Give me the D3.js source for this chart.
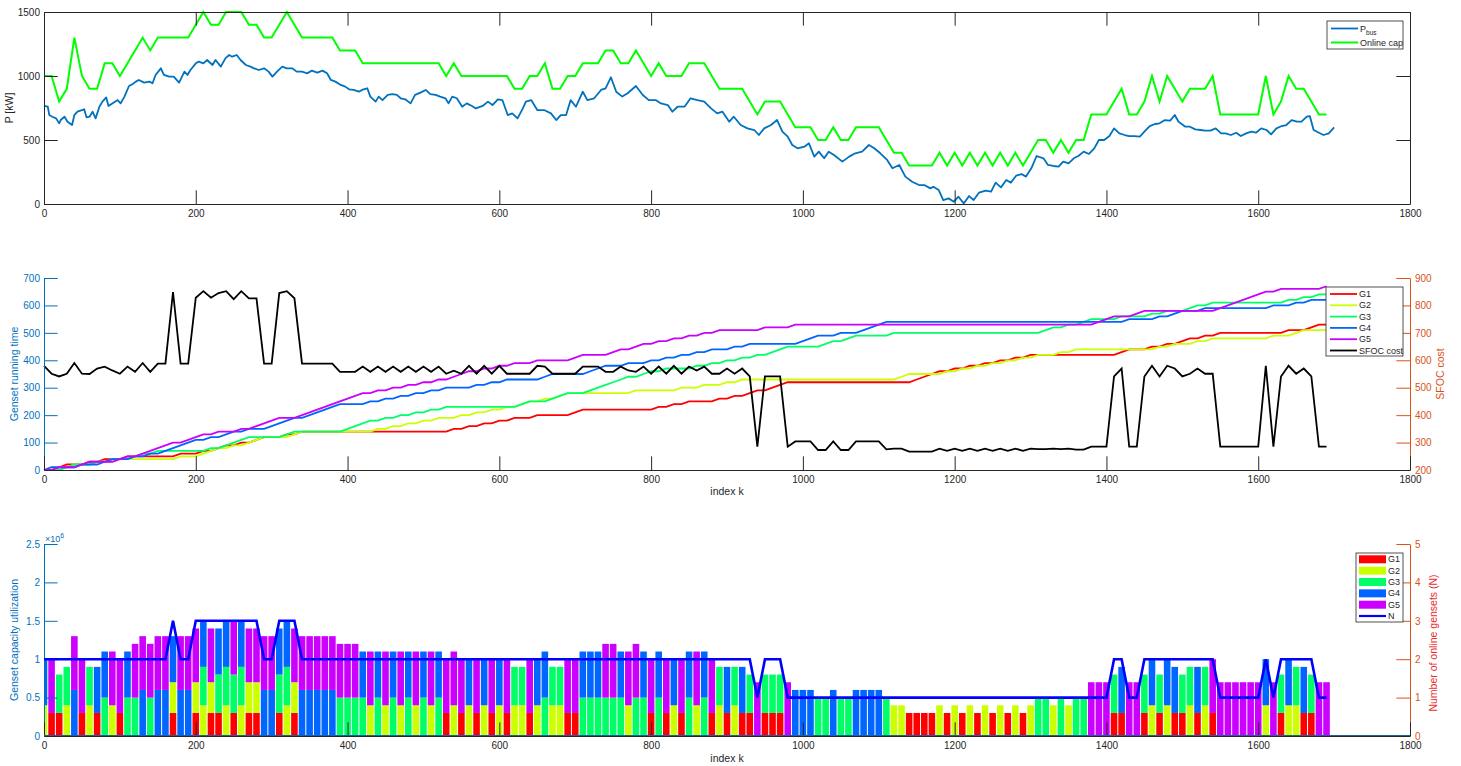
<!DOCTYPE html>
<html>
<head>
<meta charset="utf-8">
<script src="https://cdn.jsdelivr.net/npm/d3@7"></script>
<style>
  body { margin: 0; background: #fff; }
  svg { font-family: "Liberation Sans", Arial, Helvetica, sans-serif; }
</style>
</head>
<body>
<svg width="1461" height="766"></svg>
<script>
var svg = d3.select('svg');

// gensets
var genNames = ['G1', 'G2', 'G3', 'G4', 'G5'];
var genColors = ['#ff0000', '#ccff00', '#00ff66', '#0066ff', '#cc00ff'];
var genCapKW = [300, 400, 500, 600, 700];

// online gensets at each step k = 0, 10, ..., 1690
var onlineSets = [
    '24', '15', '13', '23', '45', '15', '23', '14', '34', '25',
    '15', '34', '35', '45', '35', '45', '45', '124', '45', '45',
    '125', '234', '125', '134', '234', '135', '234', '125', '125', '45',
    '45', '134', '234', '125', '45', '45', '45', '45', '45', '35',
    '35', '35', '34', '25', '34', '25', '34', '25', '34', '25',
    '34', '25', '34', '15', '25', '15', '24', '15', '24', '15',
    '24', '15', '23', '23', '15', '24', '34', '23', '23', '15',
    '15', '34', '34', '34', '35', '35', '34', '25', '35', '34',
    '15', '34', '15', '24', '15', '34', '25', '34', '15', '23',
    '14', '23', '14', '13', '5', '13', '13', '13', '5', '4',
    '4', '4', '3', '3', '4', '3', '3', '4', '4', '4',
    '4', '3', '2', '2', '1', '1', '1', '1', '2', '1',
    '2', '1', '2', '1', '2', '1', '2', '1', '2', '1',
    '2', '3', '3', '2', '3', '2', '3', '3', '5', '5',
    '5', '13', '14', '5', '5', '13', '24', '13', '24', '14',
    '13', '23', '14', '23', '15', '5', '5', '5', '5', '5',
    '5', '24', '5', '13', '24', '23', '14', '13', '5', '5'
];

// SFOC cost at each step (right axis of the middle panel)
var sfocCost = [
    580, 551, 541, 551, 590, 551, 550, 570, 577, 563,
    551, 577, 558, 590, 558, 588, 588, 849, 588, 588,
    828, 852, 828, 845, 852, 823, 852, 826, 826, 588,
    588, 845, 852, 826, 588, 588, 588, 588, 588, 558,
    558, 558, 577, 558, 577, 558, 577, 558, 577, 558,
    577, 558, 577, 551, 562, 551, 580, 551, 580, 551,
    580, 551, 551, 551, 551, 580, 577, 551, 551, 551,
    551, 577, 577, 577, 558, 558, 577, 563, 558, 577,
    551, 577, 551, 580, 551, 577, 563, 577, 551, 551,
    570, 551, 570, 541, 285, 541, 541, 541, 285, 304,
    304, 304, 273, 273, 304, 273, 273, 304, 304, 304,
    304, 275, 278, 278, 267, 267, 267, 267, 278, 270,
    278, 270, 278, 270, 278, 270, 278, 270, 278, 270,
    278, 276, 276, 278, 276, 278, 274, 274, 285, 285,
    285, 541, 570, 285, 285, 541, 580, 541, 580, 570,
    541, 551, 570, 551, 551, 285, 285, 285, 285, 285,
    285, 580, 285, 541, 580, 551, 570, 541, 285, 285
];

// bus power [kW]
var pBusK = [
    0, 5, 7, 11, 16, 20, 22, 27, 31, 37, 40, 44, 53, 56, 60, 64, 68, 73, 77, 82,
    85, 90, 97, 101, 106, 112, 117, 121, 125, 132, 139, 143, 147, 154, 158, 165, 171, 178, 185, 189,
    193, 200, 204, 210, 215, 222, 226, 233, 239, 244, 248, 254, 259, 266, 272, 277, 283, 290, 296, 301,
    307, 314, 320, 327, 333, 340, 347, 353, 360, 367, 373, 378, 384, 391, 397, 402, 408, 415, 421, 426,
    430, 437, 441, 446, 453, 459, 465, 470, 476, 483, 489, 496, 503, 509, 516, 522, 529, 533, 538, 544,
    551, 557, 564, 569, 578, 585, 591, 598, 604, 611, 617, 624, 631, 635, 642, 650, 659, 668, 675, 681,
    688, 694, 701, 710, 716, 725, 734, 740, 747, 754, 762, 769, 780, 789, 797, 806, 813, 822, 828, 835,
    844, 852, 861, 870, 879, 887, 894, 903, 909, 918, 927, 936, 942, 949, 958, 966, 973, 980, 986, 993,
    1002, 1008, 1015, 1021, 1028, 1034, 1041, 1052, 1061, 1069, 1078, 1087, 1094, 1102, 1111, 1118, 1127, 1135, 1144, 1153,
    1160, 1168, 1172, 1179, 1185, 1192, 1199, 1205, 1212, 1219, 1225, 1232, 1241, 1248, 1254, 1261, 1268, 1274, 1281, 1288,
    1294, 1301, 1308, 1317, 1323, 1330, 1337, 1343, 1350, 1357, 1363, 1370, 1377, 1384, 1390, 1397, 1404, 1410, 1417, 1424,
    1430, 1437, 1444, 1450, 1457, 1464, 1470, 1477, 1484, 1490, 1495, 1504, 1510, 1517, 1524, 1530, 1537, 1544, 1551, 1557,
    1564, 1571, 1577, 1584, 1591, 1597, 1604, 1611, 1617, 1624, 1631, 1637, 1644, 1651, 1657, 1664, 1668, 1673, 1680, 1686,
    1693, 1700
];
var pBus = [
    766, 760, 695, 682, 669, 630, 656, 682, 643, 617, 695, 721, 740, 677, 682, 721, 669, 760, 800, 833,
    766, 786, 812, 786, 839, 922, 938, 956, 969, 948, 956, 943, 1008, 1060, 1008, 995, 995, 948, 1034, 1008,
    1047, 1099, 1112, 1099, 1125, 1086, 1125, 1073, 1138, 1164, 1151, 1164, 1125, 1086, 1073, 1060, 1047, 1060, 1034, 995,
    1034, 1073, 1060, 1060, 1034, 1034, 1021, 1042, 1026, 1042, 1021, 969, 956, 930, 917, 896, 891, 878, 896, 904,
    839, 800, 839, 812, 852, 859, 852, 826, 818, 786, 852, 870, 891, 859, 852, 839, 826, 786, 839, 826,
    760, 786, 766, 747, 766, 800, 773, 818, 812, 695, 708, 669, 747, 800, 812, 734, 734, 708, 656, 695,
    695, 812, 760, 877, 812, 826, 891, 904, 990, 877, 839, 865, 922, 852, 812, 812, 786, 773, 721, 760,
    760, 826, 812, 800, 747, 708, 721, 643, 682, 617, 591, 578, 539, 591, 617, 656, 565, 526, 461, 435,
    448, 474, 370, 409, 357, 409, 383, 331, 370, 396, 409, 461, 435, 396, 344, 279, 305, 214, 174, 148,
    148, 122, 135, 109, 31, 44, 18, 57, 5, 62, 31, 88, 104, 96, 167, 130, 188, 167, 221, 234,
    214, 279, 375, 357, 305, 297, 292, 331, 318, 357, 375, 409, 391, 435, 500, 500, 531, 591, 552, 539,
    531, 531, 526, 565, 609, 625, 630, 656, 651, 695, 643, 604, 604, 583, 578, 573, 573, 591, 552, 552,
    539, 557, 531, 552, 565, 557, 591, 578, 544, 591, 609, 617, 656, 643, 643, 682, 687, 578, 557, 539,
    552, 599
];

var xTicks = [0, 200, 400, 600, 800, 1000, 1200, 1400, 1600, 1800];

// derived from the schedule
var stepK = onlineSets.map(function(s, i) { return i * 10; });
var onFlags = onlineSets.map(function(s) {
    return genNames.map(function(g, j) { return s.indexOf(String(j + 1)) >= 0; });
});
var onlineCap = onFlags.map(function(f) {
    return d3.sum(f, function(on, j) { return on ? genCapKW[j] : 0; });
});
var nOnline = onFlags.map(function(f) { return f.filter(Boolean).length; });
var runTime = genNames.map(function(g, j) {
    var t = 0;
    return onFlags.map(function(f) {
        var v = t;
        if (f[j]) t += 10;
        return v;
    });
});

var axisGray = '#262626';
var leftBlue = '#0072BD';
var rightOrange = '#D95319';
var tickLen = 13.66;
var fontStack = '"Liberation Sans", Arial, Helvetica, sans-serif';
var plain = function(d) { return String(d); };

var x = d3.scaleLinear().domain([0, 1800]).range([44, 1410]);

function styleAxis(g, color) {
    g.attr('font-family', fontStack).attr('font-size', 10);
    g.selectAll('path.domain').attr('stroke', color);
    g.selectAll('.tick line').attr('stroke', color);
    g.selectAll('.tick text').attr('fill', color);
}

function bottomAxis(yPos) {
    var ax = d3.axisBottom(x).tickValues(xTicks).tickSize(-tickLen).tickSizeOuter(0)
        .tickPadding(6).tickFormat(plain);
    var g = svg.append('g').attr('transform', 'translate(0,' + yPos + ')').call(ax);
    styleAxis(g, axisGray);
}

function yAxis(scale, side, values, color, labels) {
    var ax = (side === 'left' ? d3.axisLeft(scale) : d3.axisRight(scale))
        .tickValues(values).tickSize(-tickLen).tickSizeOuter(0)
        .tickPadding(side === 'left' ? 4 : 5)
        .tickFormat(labels ? plain : '');
    var g = svg.append('g')
        .attr('transform', 'translate(' + (side === 'left' ? 44 : 1410) + ',0)')
        .call(ax);
    styleAxis(g, color);
}

function vLabel(text, xPos, yPos, color) {
    svg.append('text')
        .attr('transform', 'translate(' + xPos + ',' + yPos + ') rotate(-90)')
        .attr('text-anchor', 'middle')
        .attr('font-size', 10.5)
        .attr('fill', color)
        .text(text);
}

function legendBox(x0, y0, w, h) {
    svg.append('rect')
        .attr('x', x0).attr('y', y0).attr('width', w).attr('height', h)
        .attr('fill', '#fff').attr('stroke', axisGray).attr('stroke-width', 0.8);
}

/* ---------- panel 1: bus power and online capacity ---------- */
var y1 = d3.scaleLinear().domain([0, 1500]).range([204, 12]);

svg.append('path')
    .datum(pBus)
    .attr('fill', 'none')
    .attr('stroke', '#0072BD')
    .attr('stroke-width', 1.8)
    .attr('stroke-linejoin', 'round')
    .attr('d', d3.line()
        .x(function(d, i) { return x(pBusK[i]); })
        .y(function(d) { return y1(d); }));

svg.append('path')
    .datum(onlineCap)
    .attr('fill', 'none')
    .attr('stroke', '#00ff00')
    .attr('stroke-width', 2)
    .attr('d', d3.line()
        .x(function(d, i) { return x(stepK[i]); })
        .y(function(d) { return y1(d); }));

bottomAxis(204);
var topAx = svg.append('g').attr('transform', 'translate(0,12)')
    .call(d3.axisTop(x).tickValues(xTicks).tickSize(-tickLen).tickSizeOuter(0).tickFormat(''));
styleAxis(topAx, axisGray);
yAxis(y1, 'left', [0, 500, 1000, 1500], axisGray, true);
yAxis(y1, 'right', [0, 500, 1000, 1500], axisGray, false);
vLabel('P [kW]', 13, 108, axisGray);

legendBox(1327, 21, 76, 28);
svg.append('line').attr('x1', 1331).attr('x2', 1358).attr('y1', 28.5).attr('y2', 28.5)
    .attr('stroke', '#0072BD').attr('stroke-width', 1.8);
var pLeg = svg.append('text').attr('x', 1360).attr('y', 31.5).attr('font-size', 9).attr('fill', axisGray);
pLeg.append('tspan').text('P');
pLeg.append('tspan').attr('font-size', 6.5).attr('dy', 3).text('bus');
svg.append('line').attr('x1', 1331).attr('x2', 1358).attr('y1', 42.5).attr('y2', 42.5)
    .attr('stroke', '#00ff00').attr('stroke-width', 2);
svg.append('text').attr('x', 1360).attr('y', 45.5).attr('font-size', 9).attr('fill', axisGray).text('Online cap');

/* ---------- panel 2: running time and SFOC cost ---------- */
var y2 = d3.scaleLinear().domain([0, 700]).range([470, 278]);
var y2r = d3.scaleLinear().domain([200, 900]).range([470, 278]);

runTime.forEach(function(series, j) {
    svg.append('path')
        .datum(series)
        .attr('fill', 'none')
        .attr('stroke', genColors[j])
        .attr('stroke-width', 1.8)
        .attr('d', d3.line()
            .x(function(d, i) { return x(stepK[i]); })
            .y(function(d) { return y2(d); }));
});

svg.append('path')
    .datum(sfocCost)
    .attr('fill', 'none')
    .attr('stroke', '#000')
    .attr('stroke-width', 1.8)
    .attr('d', d3.line()
        .x(function(d, i) { return x(stepK[i]); })
        .y(function(d) { return y2r(d); }));

yAxis(y2, 'left', d3.range(0, 701, 100), leftBlue, true);
yAxis(y2r, 'right', d3.range(200, 901, 100), rightOrange, true);
bottomAxis(470);
vLabel('Genset running time', 18, 374, leftBlue);
vLabel('SFOC cost', 1444, 374, rightOrange);
svg.append('text').attr('x', 727).attr('y', 495).attr('text-anchor', 'middle')
    .attr('font-size', 10.5).attr('fill', axisGray).text('index k');

legendBox(1326, 287, 77, 69);
genNames.concat(['SFOC cost']).forEach(function(name, j) {
    var yy = 294 + j * 11.3;
    svg.append('line').attr('x1', 1330).attr('x2', 1357).attr('y1', yy).attr('y2', yy)
        .attr('stroke', j < 5 ? genColors[j] : '#000').attr('stroke-width', 1.8);
    svg.append('text').attr('x', 1359).attr('y', yy + 3).attr('font-size', 9)
        .attr('fill', axisGray).text(name);
});

/* ---------- panel 3: capacity utilization bars and number of gensets ---------- */
var y3 = d3.scaleLinear().domain([0, 2.5]).range([736, 544]);
var y3r = d3.scaleLinear().domain([0, 5]).range([736, 544]);

var barData = [];
onFlags.forEach(function(f, i) {
    var base = 0;
    f.forEach(function(on, j) {
        if (!on) return;
        var h = genCapKW[j] / 1000;
        barData.push({ k: stepK[i], j: j, y0: base, y1: base + h });
        base += h;
    });
});

svg.append('g').selectAll('rect')
    .data(barData)
    .enter()
    .append('rect')
    .attr('x', function(d) { return Math.max(x(d.k - 5), x(0)) + (d.k === 0 ? 0 : 0.5); })
    .attr('width', function(d) { return x(d.k + 5) - Math.max(x(d.k - 5), x(0)) - (d.k === 0 ? 0.5 : 1); })
    .attr('y', function(d) { return y3(d.y1); })
    .attr('height', function(d) { return y3(d.y0) - y3(d.y1); })
    .attr('fill', function(d) { return genColors[d.j]; });

yAxis(y3, 'left', [0, 0.5, 1, 1.5, 2, 2.5], leftBlue, true);
yAxis(y3r, 'right', [0, 1, 2, 3, 4, 5], rightOrange, true);
bottomAxis(736);

svg.append('line').attr('x1', x(0)).attr('x2', x(1800)).attr('y1', 735.5).attr('y2', 735.5)
    .attr('stroke', '#1f5f9f').attr('stroke-width', 1);

svg.append('path')
    .datum(nOnline)
    .attr('fill', 'none')
    .attr('stroke', '#0000ff')
    .attr('stroke-width', 2.6)
    .attr('d', d3.line()
        .x(function(d, i) { return x(stepK[i]); })
        .y(function(d) { return y3r(d); }));

var expo = svg.append('text').attr('x', 45).attr('y', 542).attr('font-size', 9).attr('fill', leftBlue);
expo.append('tspan').text('\u00d710');
expo.append('tspan').attr('font-size', 7).attr('dy', -4).text('6');

vLabel('Genset capacity utilization', 18, 640, leftBlue);
vLabel('Number of online gensets (N)', 1437, 643, '#ec2a2a');
svg.append('text').attr('x', 727).attr('y', 762).attr('text-anchor', 'middle')
    .attr('font-size', 10.5).attr('fill', axisGray).text('index k');

legendBox(1356, 553, 47, 69);
genNames.forEach(function(name, j) {
    var yy = 559.3 + j * 11.35;
    svg.append('rect').attr('x', 1359).attr('y', yy - 4).attr('width', 27).attr('height', 8)
        .attr('fill', genColors[j]);
    svg.append('text').attr('x', 1388).attr('y', yy + 3).attr('font-size', 9)
        .attr('fill', axisGray).text(name);
});
svg.append('line').attr('x1', 1359).attr('x2', 1386).attr('y1', 616).attr('y2', 616)
    .attr('stroke', '#0000ff').attr('stroke-width', 2.2);
svg.append('text').attr('x', 1388).attr('y', 619).attr('font-size', 9).attr('fill', axisGray).text('N');
</script>
</body>
</html>
